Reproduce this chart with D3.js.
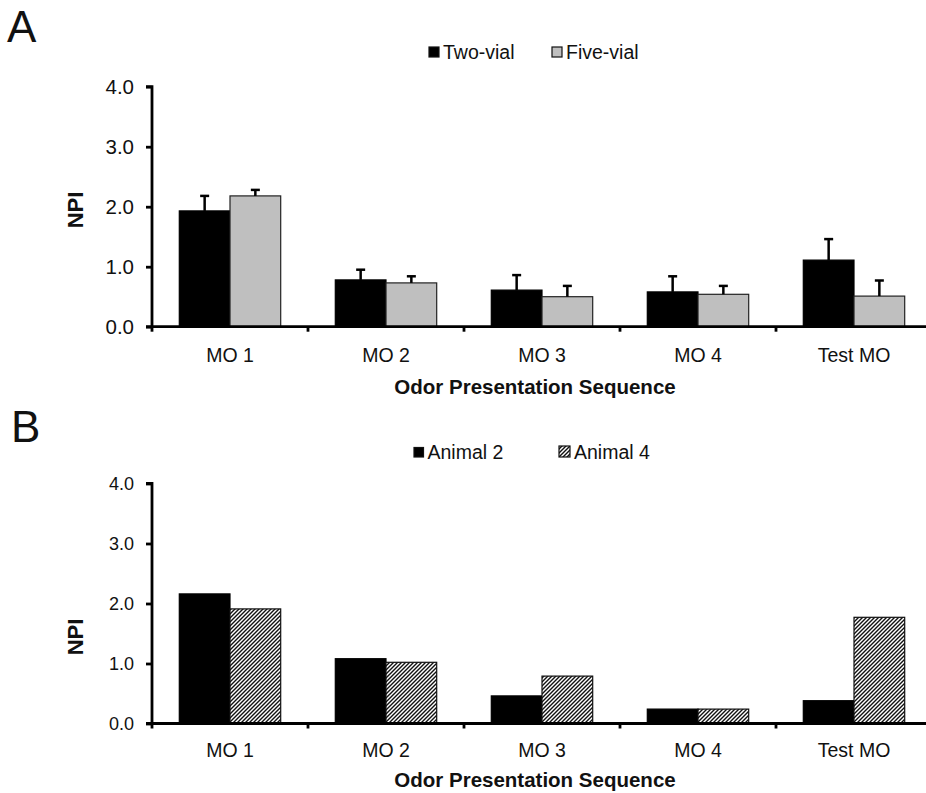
<!DOCTYPE html>
<html lang="en">
  <head>
    <meta charset="UTF-8" />
    <title>NPI</title>
    <script src="https://cdn.jsdelivr.net/npm/d3@7"></script>
    <style>
      body { margin: 0; background: #fff; }
      text { font-family: 'Liberation Sans', Arial, sans-serif; fill: #111; }
    </style>
  </head>
  <body>
    <svg width="926" height="793"></svg>
  </body>

  <script>
    // data
    var categories = ['MO 1', 'MO 2', 'MO 3', 'MO 4', 'Test MO'];
    var twoVial = [1.93, 0.78, 0.61, 0.58, 1.11];
    var twoVialErr = [0.25, 0.17, 0.25, 0.26, 0.35];
    var fiveVial = [2.18, 0.73, 0.5, 0.54, 0.51];
    var fiveVialErr = [0.1, 0.11, 0.18, 0.14, 0.26];
    var animal2 = [2.16, 1.08, 0.46, 0.24, 0.38];
    var animal4 = [1.91, 1.02, 0.79, 0.24, 1.77];
    var yTicks = [0, 1, 2, 3, 4];

    var svg = d3.select('svg');

    // hatch pattern for Animal 4
    var defs = svg.append('defs');
    defs.append('pattern')
      .attr('id', 'hatch')
      .attr('patternUnits', 'userSpaceOnUse')
      .attr('width', 4)
      .attr('height', 4)
      .call(function (p) {
        p.append('rect').attr('width', 4).attr('height', 4).attr('fill', '#fff');
        p.append('path')
          .attr('d', 'M-1,1 l2,-2 M0,4 l4,-4 M3,5 l2,-2')
          .attr('stroke', '#111')
          .attr('stroke-width', 1.4);
      });

    var xLeft = 152, xRight = 932;

    function drawPanel(opt) {
      var g = svg.append('g');
      var y = d3.scaleLinear().domain([0, 4]).range([opt.y0, opt.y0 - 240]);
      var x0 = d3.scaleBand().domain(categories).range([xLeft, xRight])
        .paddingInner(0.35).paddingOuter(0.175);
      var x1 = d3.scaleBand().domain([0, 1]).range([0, x0.bandwidth()]);

      // panel letter
      g.append('text').attr('x', opt.letterX).attr('y', opt.letterY)
        .attr('font-size', 44).text(opt.letter);

      // bars
      opt.series.forEach(function (s, si) {
        g.selectAll(null).data(s.values).enter().append('rect')
          .attr('x', function (d, i) { return x0(categories[i]) + x1(si); })
          .attr('y', function (d) { return y(d); })
          .attr('width', x1.bandwidth())
          .attr('height', function (d) { return y(0) - y(d); })
          .attr('fill', s.fill)
          .attr('stroke', s.stroke)
          .attr('stroke-width', 1.2);

        if (s.err) {
          var eg = g.selectAll(null).data(s.values).enter().append('g')
            .attr('stroke', '#000').attr('stroke-width', 2.5);
          eg.append('line')
            .attr('x1', function (d, i) { return x0(categories[i]) + x1(si) + x1.bandwidth() / 2; })
            .attr('x2', function (d, i) { return x0(categories[i]) + x1(si) + x1.bandwidth() / 2; })
            .attr('y1', function (d) { return y(d); })
            .attr('y2', function (d, i) { return y(d + s.err[i]); });
          eg.append('line')
            .attr('x1', function (d, i) { return x0(categories[i]) + x1(si) + x1.bandwidth() / 2 - 4.5; })
            .attr('x2', function (d, i) { return x0(categories[i]) + x1(si) + x1.bandwidth() / 2 + 4.5; })
            .attr('y1', function (d, i) { return y(d + s.err[i]); })
            .attr('y2', function (d, i) { return y(d + s.err[i]); });
        }
      });

      // y axis
      var axisY = d3.axisLeft(y).tickValues(yTicks).tickSize(6).tickPadding(12)
        .tickFormat(d3.format('.1f'));
      var ga = g.append('g').attr('transform', 'translate(' + xLeft + ',0)').call(axisY);
      ga.select('.domain').attr('stroke-width', 2.8).attr('d', 'M-6,' + y(4) + 'H0V' + y(0));
      ga.selectAll('.tick line').attr('stroke-width', 2.8);
      ga.selectAll('.tick text').attr('font-size', opt.tickSize)
        .attr('font-family', "'Liberation Sans', Arial, sans-serif").attr('fill', '#111');

      // x axis with boundary ticks
      g.append('line').attr('x1', xLeft - 6).attr('x2', xRight)
        .attr('y1', y(0)).attr('y2', y(0)).attr('stroke', '#000').attr('stroke-width', 2.8);
      var step = x0.step();
      g.selectAll(null).data(d3.range(categories.length)).enter().append('line')
        .attr('x1', function (i) { return xLeft + i * step; })
        .attr('x2', function (i) { return xLeft + i * step; })
        .attr('y1', y(0)).attr('y2', y(0) + 5)
        .attr('stroke', '#000').attr('stroke-width', 2.8);

      g.selectAll(null).data(categories).enter().append('text')
        .attr('x', function (d) { return x0(d) + x0.bandwidth() / 2; })
        .attr('y', opt.catY)
        .attr('text-anchor', 'middle')
        .attr('font-size', 19.5)
        .text(function (d) { return d; });

      g.append('text').attr('x', 535).attr('y', opt.titleY)
        .attr('text-anchor', 'middle').attr('font-size', 20.5).attr('font-weight', 'bold')
        .text('Odor Presentation Sequence');

      g.append('text')
        .attr('transform', 'translate(83,' + opt.npiY + ') rotate(-90)')
        .attr('text-anchor', 'middle').attr('font-size', 22).attr('font-weight', 'bold')
        .text('NPI');

      // legend
      opt.legend.forEach(function (l) {
        g.append('rect').attr('x', l.x).attr('y', opt.legY - l.size).attr('width', l.size).attr('height', l.size)
          .attr('fill', l.fill).attr('stroke', '#111').attr('stroke-width', 1.2);
        g.append('text').attr('x', l.x + l.size + 4).attr('y', opt.legY + 2)
          .attr('font-size', 19.5).text(l.label);
      });
    }

    drawPanel({
      letter: 'A', letterX: 7, letterY: 42, y0: 326.7, tickSize: 20.5,
      catY: 362, titleY: 394, npiY: 210, legY: 57,
      series: [
        { values: twoVial, err: twoVialErr, fill: '#000', stroke: '#000' },
        { values: fiveVial, err: fiveVialErr, fill: '#bfbfbf', stroke: '#222' }
      ],
      legend: [
        { x: 429, size: 10, fill: '#000', label: 'Two-vial' },
        { x: 552, size: 10, fill: '#bfbfbf', label: 'Five-vial' }
      ]
    });

    drawPanel({
      letter: 'B', letterX: 11, letterY: 442, y0: 723.5, tickSize: 18,
      catY: 757, titleY: 787, npiY: 637, legY: 457,
      series: [
        { values: animal2, fill: '#000', stroke: '#000' },
        { values: animal4, fill: 'url(#hatch)', stroke: '#111' }
      ],
      legend: [
        { x: 414, size: 9.5, fill: '#000', label: 'Animal 2' },
        { x: 559, size: 11, fill: 'url(#hatch)', label: 'Animal 4' }
      ]
    });
  </script>
</html>
